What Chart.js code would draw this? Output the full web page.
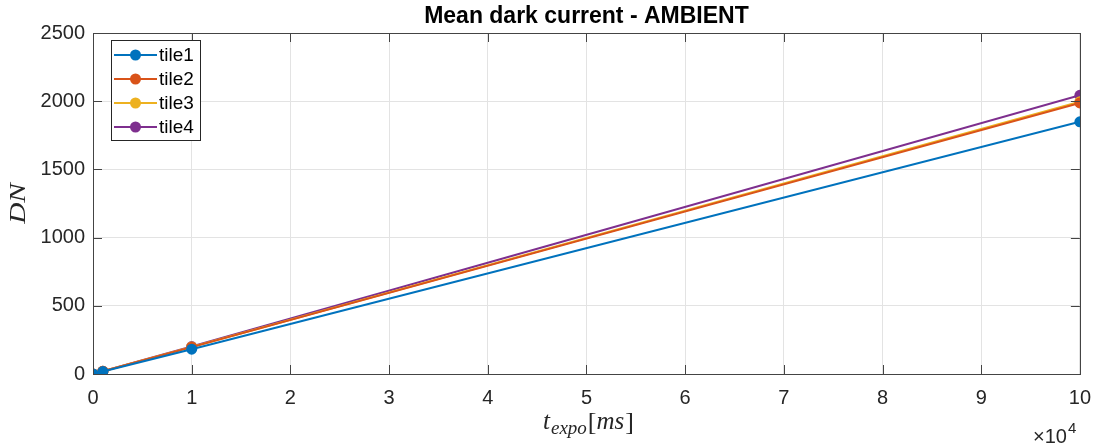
<!DOCTYPE html>
<html>
<head>
<meta charset="utf-8">
<script src="https://cdn.jsdelivr.net/npm/chart.js@4.4.1/dist/chart.umd.min.js"></script>
<style>
html,body{margin:0;padding:0;background:#fff;}
#wrap{width:1103px;height:446px;position:relative;}
</style>
</head>
<body>
<div id="wrap"><canvas id="c" width="1103" height="446"></canvas></div>
<script>
const exposureMs = [0, 1000, 10000, 100000];
const tile1 = [0, 18, 182, 1849];
const tile2 = [0, 20, 197, 1987];
const tile3 = [0, 20, 198, 1996];
const tile4 = [0, 21, 201, 2043];
const seriesNames = ['tile1', 'tile2', 'tile3', 'tile4'];
const seriesColors = ['#0072BD', '#D95319', '#EDB120', '#7E2F8E'];
const yTicks = [0, 500, 1000, 1500, 2000, 2500];
const xTickLabels = ['0','1','2','3','4','5','6','7','8','9','10'];
const titleText = 'Mean dark current - AMBIENT';
const yLabelText = 'DN';

const allSeries = [tile1, tile2, tile3, tile4];
const datasets = allSeries.map((vals, i) => ({
  label: seriesNames[i],
  data: exposureMs.map((x, j) => ({x: x, y: vals[j]})),
  borderColor: seriesColors[i],
  backgroundColor: seriesColors[i],
  borderWidth: 2,
  pointRadius: 5.5,
  pointHoverRadius: 5.5,
  pointBorderWidth: 0,
  tension: 0
}));

const AXIS = '#444';
const TXT = '#262626';
const SANS = '"Liberation Sans", Arial, sans-serif';
const SERIF = '"Liberation Serif", "DejaVu Serif", serif';

const deco = {
  id: 'deco',
  afterDraw(chart) {
    const ctx = chart.ctx;
    const a = chart.chartArea;
    const xs = chart.scales.x, ys = chart.scales.y;
    ctx.save();
    // box
    ctx.strokeStyle = AXIS;
    ctx.lineWidth = 1;
    ctx.strokeRect(Math.round(a.left)+0.5, Math.round(a.top)+0.5, Math.round(a.right-a.left), Math.round(a.bottom-a.top));
    // inner ticks
    const tl = 9;
    ctx.beginPath();
    for (let v = 0; v <= 100000; v += 10000) {
      const px = Math.round(xs.getPixelForValue(v)) + 0.5;
      ctx.moveTo(px, a.bottom); ctx.lineTo(px, a.bottom - tl);
      ctx.moveTo(px, a.top); ctx.lineTo(px, a.top + tl);
    }
    yTicks.forEach(v => {
      const py = Math.round(ys.getPixelForValue(v)) + 0.5;
      ctx.moveTo(a.left, py); ctx.lineTo(a.left + tl, py);
      ctx.moveTo(a.right, py); ctx.lineTo(a.right - tl, py);
    });
    ctx.stroke();

    // title
    ctx.fillStyle = '#000';
    ctx.font = 'bold 23px ' + SANS;
    ctx.textAlign = 'center';
    ctx.textBaseline = 'middle';
    ctx.fillText(titleText, (a.left + a.right) / 2, 17);

    // y label DN
    ctx.save();
    ctx.translate(19, (a.top + a.bottom) / 2);
    ctx.rotate(-Math.PI / 2);
    ctx.scale(1.22, 1);
    ctx.fillStyle = TXT;
    ctx.font = 'italic 24px ' + SERIF;
    ctx.textAlign = 'center';
    ctx.textBaseline = 'middle';
    ctx.fillText(yLabelText, 0, 0);
    ctx.restore();

    // x axis label t_expo[ms]
    const yb = 429;
    ctx.fillStyle = TXT;
    ctx.textBaseline = 'alphabetic';
    ctx.textAlign = 'left';
    const fMain = 'italic 25px ' + SERIF;
    const fSub = 'italic 19px ' + SERIF;
    const fUp = '26px ' + SERIF;
    let x0 = 543;
    ctx.font = fMain; ctx.fillText('t', x0, yb); x0 += ctx.measureText('t').width + 1;
    ctx.font = fSub; ctx.fillText('expo', x0, yb + 5); x0 += ctx.measureText('expo').width + 1;
    ctx.font = fUp; ctx.fillText('[', x0, yb + 1); x0 += ctx.measureText('[').width;
    ctx.font = fMain; ctx.fillText('ms', x0, yb); x0 += ctx.measureText('ms').width + 1;
    ctx.font = fUp; ctx.fillText(']', x0, yb + 1);

    // x10^4 exponent
    ctx.font = '20px ' + SANS;
    ctx.fillStyle = TXT;
    const xe = 1033;
    ctx.fillText('\u00d710', xe, 443);
    const w10 = ctx.measureText('\u00d710').width;
    ctx.font = '15px ' + SANS;
    ctx.fillText('4', xe + w10 + 1, 433);

    // legend
    const lx = 111, ly = 40, lw = 89, lh = 100;
    ctx.fillStyle = '#fff';
    ctx.fillRect(lx, ly, lw, lh);
    ctx.strokeStyle = '#262626';
    ctx.lineWidth = 1;
    ctx.strokeRect(lx + 0.5, ly + 0.5, lw, lh);
    ctx.font = '19px ' + SANS;
    ctx.textBaseline = 'middle';
    seriesNames.forEach((n, i) => {
      const ry = 55 + i * 24;
      ctx.strokeStyle = seriesColors[i];
      ctx.lineWidth = 2;
      ctx.beginPath(); ctx.moveTo(114, ry); ctx.lineTo(157, ry); ctx.stroke();
      ctx.fillStyle = seriesColors[i];
      ctx.beginPath(); ctx.arc(135.5, ry, 5.5, 0, Math.PI * 2); ctx.fill();
      ctx.fillStyle = '#000';
      ctx.fillText(n, 159, ry + 1);
    });
    ctx.restore();
  }
};

new Chart(document.getElementById('c'), {
  type: 'line',
  data: { datasets: datasets },
  options: {
    responsive: false,
    animation: false,
    events: [],
    layout: { padding: { top: 33, right: 22, left: 0, bottom: 0 } },
    plugins: { legend: { display: false }, title: { display: false }, tooltip: { enabled: false } },
    scales: {
      x: {
        type: 'linear',
        min: 0, max: 100000,
        border: { display: false },
        grid: { color: '#e3e3e3', drawTicks: false, lineWidth: 1 },
        ticks: {
          stepSize: 10000,
          padding: 12,
          color: TXT,
          font: { size: 20, family: SANS },
          maxRotation: 0,
          callback: (v) => xTickLabels[Math.round(v / 10000)]
        },
        afterFit: (s) => { s.height = 72; }
      },
      y: {
        min: 0, max: 2500,
        border: { display: false },
        grid: { color: '#e3e3e3', drawTicks: false, lineWidth: 1 },
        ticks: {
          stepSize: 500,
          padding: 8,
          color: TXT,
          font: { size: 20, family: SANS },
          callback: (v) => String(v)
        },
        afterFit: (s) => { s.width = 93; }
      }
    }
  },
  plugins: [deco]
});
</script>
</body>
</html>
